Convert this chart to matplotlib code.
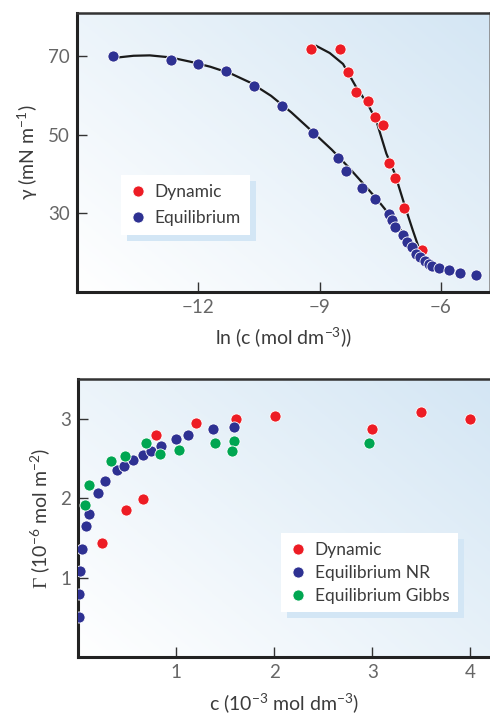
import numpy as np
import matplotlib
matplotlib.use("Agg")
import matplotlib.pyplot as plt
from matplotlib.patches import Rectangle
from matplotlib.transforms import IdentityTransform
from matplotlib.colors import LinearSegmentedColormap

plt.rcParams['font.family'] = ['Lato', 'DejaVu Sans']
plt.rcParams['mathtext.fontset'] = 'custom'
plt.rcParams['mathtext.rm'] = 'Lato'
plt.rcParams['mathtext.it'] = 'Lato:italic'
plt.rcParams['mathtext.sf'] = 'Liberation Serif'
plt.rcParams['mathtext.default'] = 'regular'

# ---------------- data: top panel ----------------
eq_lnc = [-14.11, -12.68, -12.0, -11.32, -10.63, -9.93, -9.17, -8.55, -8.34, -7.95,
          -7.63, -7.29, -7.21, -7.13, -6.94, -6.84, -6.72, -6.61, -6.52, -6.40,
          -6.30, -6.22, -6.05, -5.80, -5.54, -5.13]
eq_gamma = [70.1, 69.0, 67.9, 66.2, 62.4, 57.2, 50.5, 44.2, 40.8, 36.5,
            33.7, 29.9, 28.3, 26.4, 24.4, 22.6, 21.5, 19.7, 18.9, 17.8,
            17.2, 16.5, 16.1, 15.5, 14.7, 14.4]
dyn_lnc = [-9.21, -8.50, -8.30, -8.11, -7.81, -7.62, -7.43, -7.29, -7.14, -6.91, -6.48]
dyn_gamma = [71.9, 71.9, 66.0, 60.8, 58.5, 54.5, 52.4, 42.9, 39.0, 31.3, 20.7]

eq_fit_lnc = [-14.05, -13.6, -13.2, -12.7, -12.2, -11.7, -11.2, -10.7, -10.2, -9.7,
              -9.2, -8.7, -8.3, -7.9, -7.6, -7.3, -7.0, -6.7, -6.4, -6.1]
eq_fit_gamma = [69.6, 70.1, 70.2, 69.7, 68.6, 67.3, 65.6, 63.2, 59.9, 55.7,
                51.0, 46.2, 41.9, 37.3, 33.8, 30.0, 25.8, 22.0, 18.8, 16.6]
dyn_fit_lnc = [-9.08, -8.75, -8.42, -8.09, -7.81, -7.60, -7.35, -7.14, -6.90, -6.70, -6.52]
dyn_fit_gamma = [72.6, 70.8, 68.0, 62.0, 57.8, 53.6, 45.2, 40.1, 32.1, 25.8, 20.4]

top_xticks = [-12, -9, -6]
top_yticks = [30, 50, 70]

# ---------------- data: bottom panel ----------------
dyn_c = [0.25, 0.49, 0.66, 0.80, 1.20, 1.61, 2.01, 3.00, 3.50, 4.00]
dyn_G = [1.43, 1.85, 1.99, 2.80, 2.95, 3.00, 3.03, 2.87, 3.09, 3.00]
nr_c = [0.011, 0.011, 0.02, 0.04, 0.08, 0.11, 0.20, 0.28, 0.40, 0.47,
        0.56, 0.66, 0.74, 0.85, 1.00, 1.12, 1.38, 1.59]
nr_G = [0.50, 0.79, 1.08, 1.36, 1.65, 1.80, 2.07, 2.21, 2.35, 2.41,
        2.48, 2.54, 2.59, 2.66, 2.74, 2.79, 2.87, 2.90]
gibbs_c = [0.07, 0.11, 0.34, 0.48, 0.69, 0.84, 1.03, 1.40, 1.59, 1.57, 2.97]
gibbs_G = [1.91, 2.17, 2.47, 2.53, 2.69, 2.56, 2.61, 2.70, 2.72, 2.59, 2.69]

bot_xticks = [1, 2, 3, 4]
bot_yticks = [1, 2, 3]

RED = '#ED1C24'
BLUE = '#2E3192'
GREEN = '#00A651'
TXT = '#3c3c3c'
TICK = '#666666'

fig = plt.figure(figsize=(4.9, 7.19), dpi=100)
ax1 = fig.add_axes([0.157, 0.594, 0.842, 0.388])
ax2 = fig.add_axes([0.159, 0.086, 0.841, 0.387])

cmap = LinearSegmentedColormap.from_list('bg', ['#ffffff', '#d4e6f4'])
gx, gy = np.meshgrid(np.linspace(0, 1, 200), np.linspace(0, 1, 200))
grad = (0.55 * gx + 0.45 * gy)


def style(ax, xlim, ylim, xt, yt):
    ax.imshow(grad, extent=(0, 1, 0, 1), transform=ax.transAxes, origin='lower',
              cmap=cmap, aspect='auto', zorder=0, interpolation='bilinear')
    ax.set_xlim(*xlim)
    ax.set_ylim(*ylim)
    ax.set_xticks(xt)
    ax.set_yticks(yt)
    ax.tick_params(direction='in', length=7, width=1.0, color='#333333',
                   labelsize=13.5, labelcolor=TICK, pad=5)
    for s in ['left', 'bottom']:
        ax.spines[s].set_linewidth(2.2)
        ax.spines[s].set_color('#222222')
    ax.spines['top'].set_linewidth(1.8)
    ax.spines['top'].set_color('#333333')


style(ax1, (-15.0, -4.8), (10.0, 81.0), top_xticks, top_yticks)
ax1.spines['right'].set_linewidth(1.2)
ax1.spines['right'].set_color('#888888')
ax1.set_xticklabels(['\u221212', '\u22129', '\u22126'])

ax1.plot(eq_fit_lnc, eq_fit_gamma, color='#1a1a1a', lw=1.6, zorder=2)
ax1.plot(dyn_fit_lnc, dyn_fit_gamma, color='#1a1a1a', lw=1.6, zorder=2)
mk = dict(marker='o', ls='none', ms=8, mec='white', mew=0.6, zorder=3)
ax1.plot(dyn_lnc, dyn_gamma, mfc=RED, label='Dynamic', **mk)
ax1.plot(eq_lnc, eq_gamma, mfc=BLUE, label='Equilibrium', **mk)
ax1.set_xlabel('ln (c (mol dm$^{\u22123}$))', fontsize=14, color=TXT, labelpad=7)
ax1.set_ylabel('\u03b3 (mN m$^{\u22121}$)', fontsize=14, color=TXT, labelpad=6)

style(ax2, (0.0, 4.2), (0.0, 3.5), bot_xticks, bot_yticks)
ax2.spines['right'].set_visible(False)
ax2.plot(dyn_c, dyn_G, mfc=RED, label='Dynamic', **mk)
ax2.plot(nr_c, nr_G, mfc=BLUE, label='Equilibrium NR', **mk)
ax2.plot(gibbs_c, gibbs_G, mfc=GREEN, label='Equilibrium Gibbs', **mk)
ax2.set_xlabel('c (10$^{\u22123}$ mol dm$^{\u22123}$)', fontsize=14, color=TXT, labelpad=7)
ax2.set_ylabel('$\\mathsf{\\Gamma}$ (10$^{\u22126}$ mol m$^{\u22122}$)', fontsize=14, color=TXT, labelpad=6)

legs = []
for ax, anchor, sp in [(ax1, (0.1065, 0.419), 0.62), (ax2, (0.492, 0.4456), 0.40)]:
    leg = ax.legend(loc='upper left', bbox_to_anchor=anchor, borderaxespad=0,
                    frameon=True, fancybox=False, framealpha=1, edgecolor='none',
                    facecolor='white', fontsize=12.5, labelspacing=sp,
                    handlelength=1.0, handletextpad=0.45, borderpad=0.5,
                    numpoints=1, labelcolor=TXT)
    leg.set_zorder(6)
    legs.append((ax, leg))

fig.canvas.draw()
for ax, leg in legs:
    bb = leg.get_window_extent()
    r = Rectangle((bb.x0 + 6, bb.y0 - 6), bb.width, bb.height, transform=IdentityTransform(),
                  facecolor='#d3e6f5', edgecolor='none', zorder=5.5)
    ax.add_patch(r)

fig.savefig('out.png', dpi=100)
